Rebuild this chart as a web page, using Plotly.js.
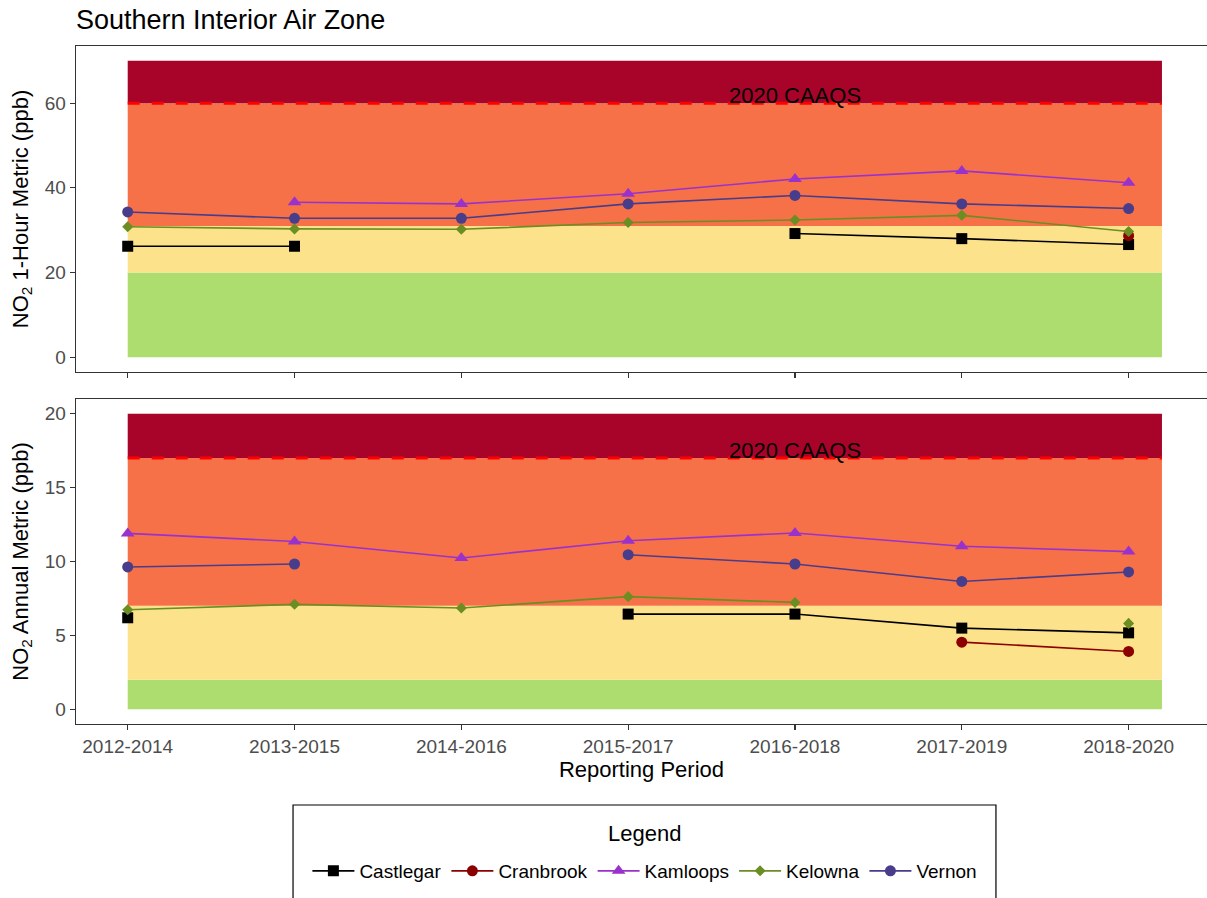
<!DOCTYPE html>
<html>
<head>
<meta charset="utf-8">
<script src="https://cdn.plot.ly/plotly-3.0.1.min.js"></script>
<style>
  html, body { margin: 0; padding: 0; background: #ffffff; }
  #chart { width: 1207px; height: 898px; }
</style>
</head>
<body>
<div id="chart"></div>
<script>
// Reporting periods (3-year rolling windows)
const periods = ['2012-2014', '2013-2015', '2014-2016', '2015-2017', '2016-2018', '2017-2019', '2018-2020'];

const sites = ['Castlegar', 'Cranbrook', 'Kamloops', 'Kelowna', 'Vernon'];

// NO2 1-hour metric (ppb) per site
const castlegar1h = [26.2, 26.2, null, null, 29.2, 28.0, 26.6];
const cranbrook1h = [null, null, null, null, null, null, 28.7];
const kamloops1h  = [null, 36.6, 36.2, 38.6, 42.1, 44.0, 41.2];
const kelowna1h   = [30.8, 30.3, 30.2, 31.8, 32.4, 33.5, 29.7];
const vernon1h    = [34.3, 32.8, 32.8, 36.2, 38.2, 36.2, 35.1];

// NO2 annual metric (ppb) per site
const castlegarAnn = [6.19, null, null, 6.44, 6.44, 5.49, 5.17];
const cranbrookAnn = [null, null, null, null, null, 4.54, 3.91];
const kamloopsAnn  = [11.9, 11.35, 10.24, 11.4, 11.93, 11.03, 10.67];
const kelownaAnn   = [6.73, 7.1, 6.85, 7.62, 7.23, null, 5.81];
const vernonAnn    = [9.63, 9.83, null, 10.46, 9.83, 8.65, 9.29];

// Management level boundaries (green / yellow / orange / red) and CAAQS
const levels1h  = [0, 20, 31, 60, 70];
const levelsAnn = [0, 2, 7, 17, 20];
const caaqs1h  = 60;
const caaqsAnn = 17;
const bandColors = ['#ADDD6E', '#FDE28C', '#F77148', '#A8042A'];

const oneHour = [castlegar1h, cranbrook1h, kamloops1h, kelowna1h, vernon1h];
const annual  = [castlegarAnn, cranbrookAnn, kamloopsAnn, kelownaAnn, vernonAnn];

const styles = [
  { color: '#000000', symbol: 'square',      size: 11 },
  { color: '#8B0000', symbol: 'circle',      size: 11 },
  { color: '#9932CC', symbol: 'triangle-up', size: 12 },
  { color: '#6B8E23', symbol: 'diamond',     size: 8.5 },
  { color: '#483D8B', symbol: 'circle',      size: 11 }
];

const bandEnd = 6.2;   // bands run from the first period to just past the last one

const traces = [];
sites.forEach((name, i) => {
  const st = styles[i];
  const common = {
    x: periods, type: 'scatter', mode: 'lines+markers', name: name,
    legendgroup: name, connectgaps: false, hoverinfo: 'x+y+name',
    line: { color: st.color, width: 1.6 },
    marker: { color: st.color, symbol: st.symbol, size: st.size }
  };
  traces.push(Object.assign({}, common, { y: oneHour[i], xaxis: 'x', yaxis: 'y', showlegend: true }));
  traces.push(Object.assign({}, common, { y: annual[i], xaxis: 'x2', yaxis: 'y2', showlegend: false }));
});

function bandShapes(levels, xref, yref) {
  const out = [];
  for (let k = 0; k < levels.length - 1; k++) {
    out.push({
      type: 'rect', xref: xref, yref: yref, layer: 'below',
      x0: 0, x1: bandEnd, y0: levels[k], y1: levels[k + 1],
      fillcolor: bandColors[k], line: { width: 0 }
    });
  }
  return out;
}

function caaqsLine(value, xref, yref) {
  return {
    type: 'line', xref: xref, yref: yref, layer: 'below',
    x0: 0, x1: bandEnd, y0: value, y1: value,
    line: { color: '#FF0000', width: 3, dash: '12px,12px' }
  };
}

const shapes = []
  .concat(bandShapes(levels1h, 'x', 'y'))
  .concat(bandShapes(levelsAnn, 'x2', 'y2'))
  .concat([caaqsLine(caaqs1h, 'x', 'y'), caaqsLine(caaqsAnn, 'x2', 'y2')])
  .concat([{
    // frame around the legend
    type: 'rect', xref: 'paper', yref: 'paper',
    x0: 0.1919, x1: 0.8134, y0: -0.1195, y1: -0.4,
    line: { color: '#000000', width: 1.2 }, fillcolor: 'rgba(0,0,0,0)'
  }]);

const tickFont = { family: 'Liberation Sans, Arial, sans-serif', size: 19, color: '#4D4D4D' };
const titleFont = { family: 'Liberation Sans, Arial, sans-serif', size: 22, color: '#000000' };

const xBase = {
  type: 'category', categoryorder: 'array', categoryarray: periods,
  range: [-0.31, 6.47], showgrid: false, zeroline: false,
  showline: true, linecolor: '#333333', linewidth: 1.3, mirror: true,
  ticks: 'outside', ticklen: 5, tickwidth: 1.2, tickcolor: '#333333',
  tickfont: tickFont, fixedrange: true
};
const yBase = {
  showgrid: false, zeroline: false,
  showline: true, linecolor: '#333333', linewidth: 1.3, mirror: false,
  ticks: 'outside', ticklen: 5, tickwidth: 1.2, tickcolor: '#333333',
  tickfont: tickFont, fixedrange: true
};

const layout = {
  width: 1207, height: 898,
  margin: { l: 76, r: 0, t: 46, b: 174 },
  paper_bgcolor: '#ffffff', plot_bgcolor: '#ffffff',
  font: { family: 'Liberation Sans, Arial, sans-serif', color: '#000000' },
  title: {
    text: 'Southern Interior Air Zone',
    font: { family: 'Liberation Sans, Arial, sans-serif', size: 27, color: '#000000' },
    x: 0, xref: 'paper', xanchor: 'left',
    y: 1 - 20 / 898, yref: 'container', yanchor: 'middle'
  },
  xaxis: Object.assign({}, xBase, { anchor: 'y', showticklabels: false }),
  xaxis2: Object.assign({}, xBase, {
    anchor: 'y2', showticklabels: true,
    title: { text: 'Reporting Period', font: titleFont, standoff: 4 }
  }),
  yaxis: Object.assign({}, yBase, {
    domain: [0.5192, 1], range: [-3.5, 73.5], tickvals: [0, 20, 40, 60],
    title: { text: 'NO<sub>2</sub> 1-Hour Metric (ppb)', font: titleFont, standoff: 10 }
  }),
  yaxis2: Object.assign({}, yBase, {
    domain: [0, 0.4794], range: [-1, 21], tickvals: [0, 5, 10, 15, 20],
    title: { text: 'NO<sub>2</sub> Annual Metric (ppb)', font: titleFont, standoff: 10 }
  }),
  shapes: shapes,
  annotations: [
    {
      text: '2020 CAAQS', xref: 'x', yref: 'y', x: 4, y: caaqs1h,
      xanchor: 'center', yanchor: 'bottom', yshift: -7, showarrow: false,
      font: { family: 'Liberation Sans, Arial, sans-serif', size: 22, color: '#000000' }
    },
    {
      text: '2020 CAAQS', xref: 'x2', yref: 'y2', x: 4, y: caaqsAnn,
      xanchor: 'center', yanchor: 'bottom', yshift: -7, showarrow: false,
      font: { family: 'Liberation Sans, Arial, sans-serif', size: 22, color: '#000000' }
    },
    {
      text: 'Legend', xref: 'paper', yref: 'paper', x: 0.503, y: -0.1608,
      xanchor: 'center', yanchor: 'middle', showarrow: false,
      font: { family: 'Liberation Sans, Arial, sans-serif', size: 22, color: '#000000' }
    }
  ],
  showlegend: true,
  legend: {
    orientation: 'h', x: 0.503, xanchor: 'center', y: -0.2168, yanchor: 'middle',
    bgcolor: 'rgba(0,0,0,0)', borderwidth: 0, traceorder: 'normal', itemwidth: 42,
    font: { family: 'Liberation Sans, Arial, sans-serif', size: 19, color: '#000000' }
  }
};

Plotly.newPlot('chart', traces, layout, { displayModeBar: false, staticPlot: true });
</script>
</body>
</html>
